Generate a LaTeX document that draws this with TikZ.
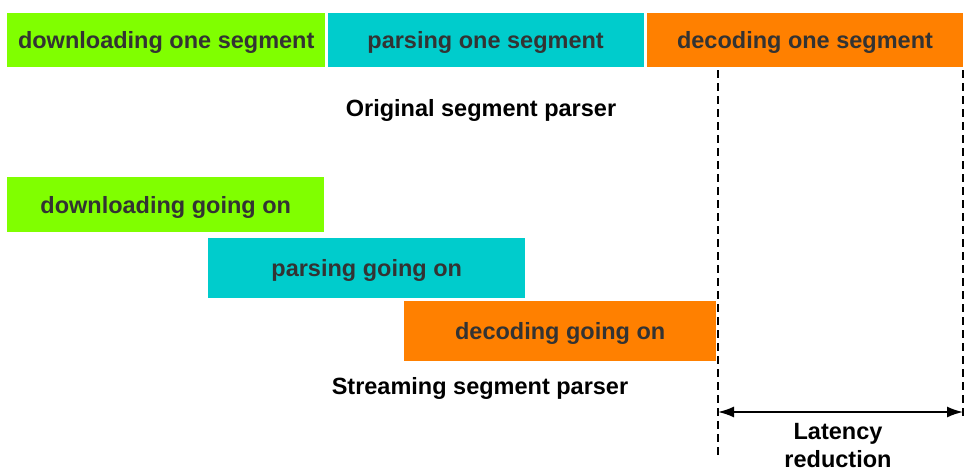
\documentclass[tikz,border=0pt]{standalone}
\usepackage{fontspec}
\setmainfont{Liberation Sans}
\usetikzlibrary{positioning,arrows.meta}
\definecolor{dlgreen}{HTML}{80FF00}
\definecolor{pscyan}{HTML}{00CCCC}
\definecolor{dcorange}{HTML}{FF8000}
\definecolor{txtgray}{HTML}{333333}
\tikzset{phase/.style={rectangle, inner sep=0pt, minimum height=54pt, text height=17pt, text depth=0pt, anchor=north west, text=txtgray, font=\bfseries\fontsize{23.5}{28}\selectfont},
  caption/.style={font=\bfseries\fontsize{23.5}{28}\selectfont, align=center}}

\begin{document}
\begin{tikzpicture}[x=1pt, y=-1pt, node distance=2pt]
\useasboundingbox (0,0) rectangle (977,474);

% original parser
\node [phase, fill=dlgreen, minimum width=318pt] (dlone) at (7,13) {downloading one segment};
\node [phase, fill=pscyan, minimum width=316pt, right=2pt of dlone.north east, anchor=north west] (psone) {parsing one segment};
\node [phase, fill=dcorange, minimum width=316pt, right=3pt of psone.north east, anchor=north west] (dcone) {decoding one segment};
\node [caption] (orig) at (481,110) {Original segment parser};

% streaming parser
\node [phase, fill=dlgreen, minimum width=317pt, minimum height=55pt] (dlstream) at (7,177) {downloading going on};
\node [phase, fill=pscyan, minimum width=317pt, minimum height=60pt] (psstream) at (208,238) {parsing going on};
\node [phase, fill=dcorange, minimum width=312pt, minimum height=60pt] (dcstream) at (404,301) {decoding going on};
\node [caption] (stream) at (480,388) {Streaming segment parser};

% latency
\coordinate (latA) at (718,70);
\coordinate (latAend) at (718,458);
\coordinate (latB) at (963,70);
\coordinate (latBend) at (963,420);
\draw [dashed, line width=1.6pt, dash pattern=on 8pt off 5pt] (latA) -- (latAend);
\draw [dashed, line width=1.6pt, dash pattern=on 8pt off 5pt] (latB) -- (latBend);
\coordinate (arrA) at (718,412);
\coordinate (arrB) at (963,412);
\draw [{Latex[length=16pt,width=11pt]}-{Latex[length=16pt,width=11pt]}, line width=1.8pt] (arrA) -- (arrB);
\node [caption] (lat) at (838,446) {Latency\\reduction};
\end{tikzpicture}
\end{document}
